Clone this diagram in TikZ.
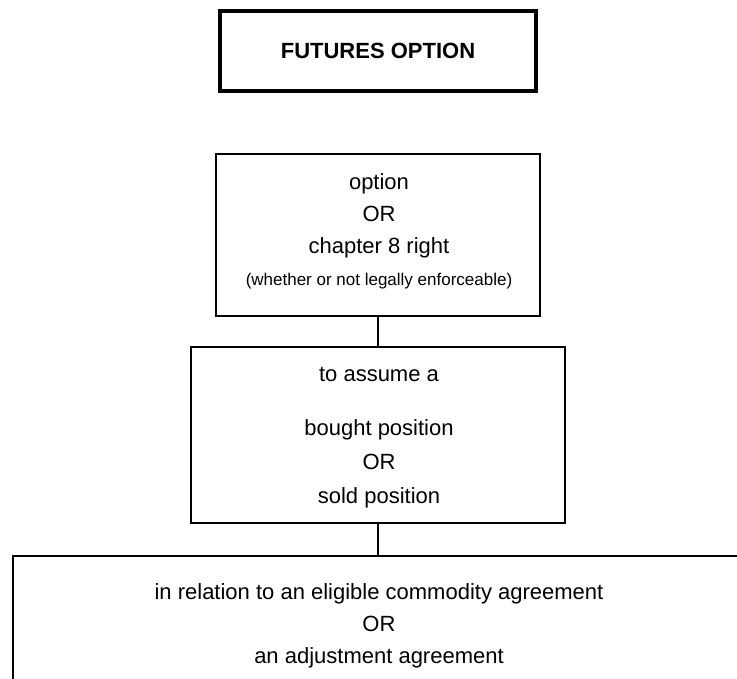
\documentclass[tikz,border=0pt]{standalone}
\usepackage{fontspec}
\setmainfont{Liberation Sans}
\usepackage{tikz}
\usetikzlibrary{arrows.meta}

\begin{document}
\begin{tikzpicture}[x=1pt, y=-1pt,
	textbox/.style={draw, line width=2pt, inner sep=0},
	titlebox/.style={textbox, line width=4pt, font=\fontsize{22}{26}\selectfont\bfseries},
	boxtext/.style={font=\fontsize{22}{32}\selectfont, inner sep=0, align=center}
]
\useasboundingbox (0,0) rectangle (737,679);
%boxes
\node[titlebox, minimum width=316, minimum height=80] (v1) at (378,51) {FUTURES OPTION};
\node[textbox, minimum width=324, minimum height=162] (v2) at (378,235) {};
\node[textbox, minimum width=374, minimum height=176] (v3) at (378,435) {};
\node[textbox, minimum width=780, minimum height=180, anchor=north west] (v4) at (12,555) {};
%text
\node[boxtext] (t2) at (379,231) {option\\OR\\chapter 8 right\\{\fontsize{17}{20}\selectfont (whether or not legally enforceable)}};
\node[boxtext, font=\fontsize{22}{34}\selectfont] (t3) at (379,437.5) {to assume a\\[20pt]bought position\\OR\\sold position};
\node[boxtext] (t4) at (379,625.5) {in relation to an eligible commodity agreement\\OR\\an adjustment agreement};
\draw [line width=2pt] (v2.south) -- (v2.south |- v3.north);
\draw [line width=2pt] (v3.south) -- (v3.south |- v4.north);
\end{tikzpicture}
\end{document}
